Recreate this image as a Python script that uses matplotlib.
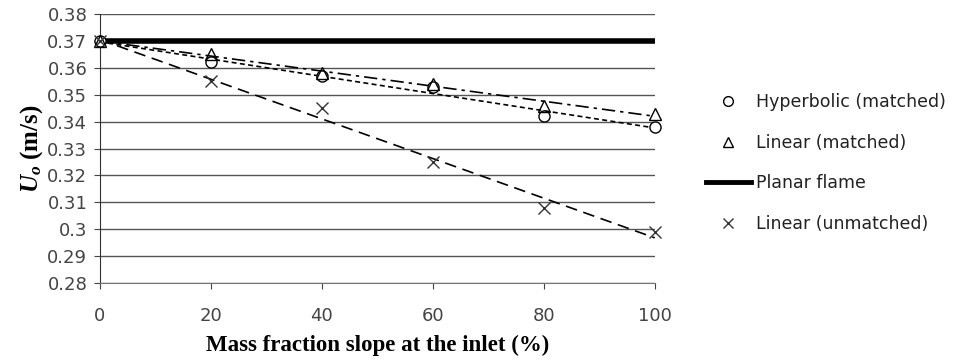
import numpy as np
import matplotlib
matplotlib.use("Agg")
import matplotlib.pyplot as plt
from matplotlib.lines import Line2D

plt.rcParams["mathtext.fontset"] = "custom"
plt.rcParams["mathtext.it"] = "Liberation Serif:italic:bold"
plt.rcParams["mathtext.rm"] = "Liberation Serif:bold"
plt.rcParams["mathtext.bf"] = "Liberation Serif:bold"

x = [0, 20, 40, 60, 80, 100]
hyperbolic = [0.370, 0.362, 0.357, 0.353, 0.342, 0.338]
linear_matched = [0.370, 0.365, 0.358, 0.354, 0.346, 0.343]
linear_unmatched = [0.370, 0.355, 0.345, 0.325, 0.308, 0.299]
planar = 0.370
yticks = [0.28, 0.29, 0.3, 0.31, 0.32, 0.33, 0.34, 0.35, 0.36, 0.37, 0.38]
ytick_labels = ["0.28", "0.29", "0.3", "0.31", "0.32", "0.33", "0.34", "0.35", "0.36", "0.37", "0.38"]
xticks = [0, 20, 40, 60, 80, 100]

fig = plt.figure(figsize=(9.6, 3.61), dpi=100)
ax = fig.add_axes([0.104, 0.216, 0.578, 0.745])

ax.set_xlim(0, 100)
ax.set_ylim(0.28, 0.38)
ax.set_yticks(yticks)
ax.set_yticklabels(ytick_labels)
ax.set_xticks(xticks)
ax.grid(axis="y", color="#555555", linewidth=1.0)
ax.set_axisbelow(True)
for s in ["top", "right"]:
    ax.spines[s].set_visible(False)
ax.spines["left"].set_color("#333333")
ax.spines["bottom"].set_color("#777777")
ax.tick_params(axis="both", labelsize=13, colors="#444444", length=4)
ax.tick_params(axis="x", pad=13)
ax.tick_params(axis="y", pad=5)

ax.axhline(planar, color="black", linewidth=4, zorder=3)

xa = np.array(x, dtype=float)
xx = np.array([0, 100], dtype=float)
for ys, ls in [(hyperbolic, (0, (3, 2))), (linear_matched, (0, (8, 3, 2, 3))), (linear_unmatched, (0, (7, 4)))]:
    p = np.polyfit(xa, ys, 1)
    ax.plot(xx, np.polyval(p, xx), color="black", linewidth=1.2, linestyle=ls, zorder=3, clip_on=False)

ax.plot(x, hyperbolic, "o", mfc="white", mec="black", ms=8, mew=1.0, zorder=4, clip_on=False)
ax.plot(x, linear_matched, "^", mfc="none", mec="black", ms=8, mew=1.0, zorder=4, clip_on=False)
ax.plot(x, linear_unmatched, "x", color="#333333", ms=9, mew=1.0, zorder=4, clip_on=False)

ax.set_xlabel("Mass fraction slope at the inlet (%)", fontfamily="Liberation Serif", fontweight="bold",
              fontsize=16.5, labelpad=7)
ax.set_ylabel(r"$\mathit{U}_{\mathit{o}}$ (m/s)", fontfamily="Liberation Serif", fontweight="bold",
              fontsize=18, labelpad=2)

handles = [
    Line2D([], [], marker="o", linestyle="none", mfc="white", mec="black", ms=7),
    Line2D([], [], marker="^", linestyle="none", mfc="none", mec="black", ms=7),
    Line2D([], [], color="black", linewidth=3.5),
    Line2D([], [], marker="x", linestyle="none", color="#333333", ms=7),
]
labels = ["Hyperbolic (matched)", "Linear (matched)", "Planar flame", "Linear (unmatched)"]
fig.legend(handles, labels, loc="center left", bbox_to_anchor=(0.719, 0.548), frameon=False,
           fontsize=12.5, labelspacing=1.3, handlelength=2.6, handletextpad=0.3, labelcolor="#222222")

fig.savefig("out.png", dpi=100)
